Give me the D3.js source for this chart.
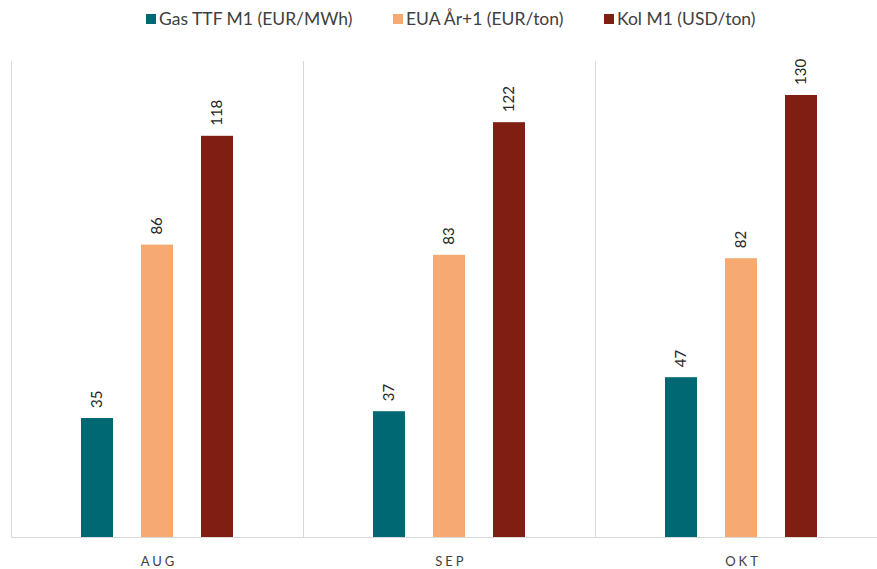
<!DOCTYPE html>
<html><head><meta charset="utf-8">
<script src="https://cdn.jsdelivr.net/npm/d3@7"></script>
<style>body{margin:0;background:#fff;} svg{display:block;font-family:Lato,"Open Sans",sans-serif;}</style>
</head><body>
<svg id="c" width="877" height="569"></svg>
<script>
const categories = ["AUG", "SEP", "OKT"];
const seriesNames = ["Gas TTF M1 (EUR/MWh)", "EUA År+1 (EUR/ton)", "Kol M1 (USD/ton)"];
const gas = [35, 37, 47];
const eua = [86, 83, 82];
const kol = [118, 122, 130];
const colors = ["#006872", "#F6AA72", "#7F1F12"];
const yMax = 140;

(function () {
const series = [gas, eua, kol];
const svg = d3.select("#c");
const pLeft = 11, pRight = 887, pTop = 61, pBottom = 537;

const x = d3.scaleBand().domain(categories).range([pLeft, pRight]).padding(0);
const y = d3.scaleLinear().domain([0, yMax]).range([pBottom, pTop]);
const offsets = [-60, 0, 60];
const bw = 32;

// vertical separators
const edges = [pLeft, ...categories.map(c => x(c) + x.bandwidth())];
svg.append("g").selectAll("line").data(edges).join("line")
  .attr("x1", d => d + 0.5).attr("x2", d => d + 0.5)
  .attr("y1", pTop).attr("y2", pBottom)
  .attr("stroke", "#d9d9d9").attr("stroke-width", 1);

// bars
series.forEach((vals, si) => {
  const g = svg.append("g");
  g.selectAll("rect").data(vals).join("rect")
    .attr("x", (d, i) => x(categories[i]) + x.bandwidth() / 2 + offsets[si] - bw / 2)
    .attr("width", bw)
    .attr("y", d => y(d))
    .attr("height", d => pBottom - y(d))
    .attr("fill", colors[si]);
  g.selectAll("text").data(vals).join("text")
    .attr("transform", (d, i) => {
      const cx = x(categories[i]) + x.bandwidth() / 2 + offsets[si];
      return `translate(${cx + 5},${y(d) - 10}) rotate(-90)`;
    })
    .attr("font-size", 15).attr("fill", "#262626")
    .text(d => d);
});

// baseline
svg.append("line").attr("x1", pLeft).attr("x2", pRight).attr("y1", pBottom + 0.5).attr("y2", pBottom + 0.5)
  .attr("stroke", "#d9d9d9");

// category labels
svg.append("g").selectAll("text").data(categories).join("text")
  .attr("x", d => x(d) + x.bandwidth() / 2 + 2)
  .attr("y", 566)
  .attr("text-anchor", "middle")
  .attr("font-size", 13).attr("letter-spacing", "3px").attr("fill", "#404040")
  .text(d => d);

// legend
const legX = [146, 393, 604];
const lg = svg.append("g");
seriesNames.forEach((n, i) => {
  lg.append("rect").attr("x", legX[i]).attr("y", 14).attr("width", 10).attr("height", 10).attr("fill", colors[i]);
  lg.append("text").attr("x", legX[i] + 13).attr("y", 25).attr("font-size", 17.5).attr("fill", "#404040").text(n);
});
})();
</script>
</body></html>
